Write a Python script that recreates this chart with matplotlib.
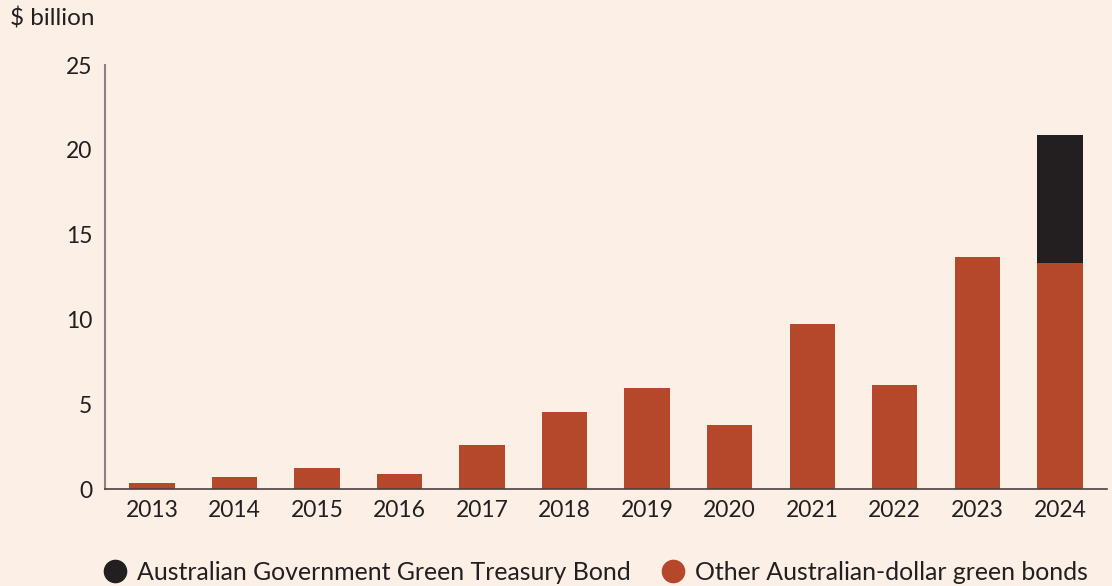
import matplotlib.pyplot as plt
import numpy as np

years = ['2013', '2014', '2015', '2016', '2017', '2018', '2019', '2020',
         '2021', '2022', '2023', '2024']
other = [0.35, 0.7, 1.24, 0.88, 2.6, 4.54, 5.96, 3.77, 9.73, 6.13, 13.68, 13.33]
treasury = [0, 0, 0, 0, 0, 0, 0, 0, 0, 0, 0, 7.54]

bg = '#FCEFE6'
orange = '#B5482A'
black = '#231F20'
plt.rcParams['font.family'] = ['Lato', 'DejaVu Sans']

fig = plt.figure(figsize=(11.12, 5.86), dpi=100, facecolor=bg)
ax = fig.add_axes([0.0944, 0.1655, 0.901, 0.7235], facecolor=bg)

x = np.arange(len(years))
ax.bar(x, other, width=0.55, color=orange, label='Other Australian-dollar green bonds')
ax.bar(x, treasury, width=0.55, bottom=other, color=black,
       label='Australian Government Green Treasury Bond')

ax.set_xlim(-0.57, 11.57)
ax.set_ylim(0, 25)
ax.set_yticks([0, 5, 10, 15, 20, 25])
ax.set_xticks(x)
ax.set_xticklabels(years)
ax.tick_params(axis='both', length=0, labelsize=16.5, colors='#231F20')
ax.tick_params(axis='y', pad=9)
ax.tick_params(axis='x', pad=8)
for s in ['top', 'right']:
    ax.spines[s].set_visible(False)
ax.spines['left'].set_color('#8C8282')
ax.spines['left'].set_linewidth(1.5)
ax.spines['bottom'].set_color('#4A4040')
ax.spines['bottom'].set_linewidth(1.2)

fig.text(0.009, 0.968, '$ billion', fontsize=17.5, color='#231F20', va='center')

handles = [
    plt.Line2D([], [], marker='o', ls='', color=black, markersize=16),
    plt.Line2D([], [], marker='o', ls='', color=orange, markersize=16),
]
fig.legend(handles, ['Australian Government Green Treasury Bond',
                     'Other Australian-dollar green bonds'],
           loc='center left', bbox_to_anchor=(0.0922, 0.023), ncol=2, frameon=False,
           fontsize=17.9, handlelength=1.0, handletextpad=0.38, columnspacing=1.2,
           borderpad=0, borderaxespad=0, labelcolor='#231F20')

fig.savefig('out.png', dpi=100, facecolor=bg)
